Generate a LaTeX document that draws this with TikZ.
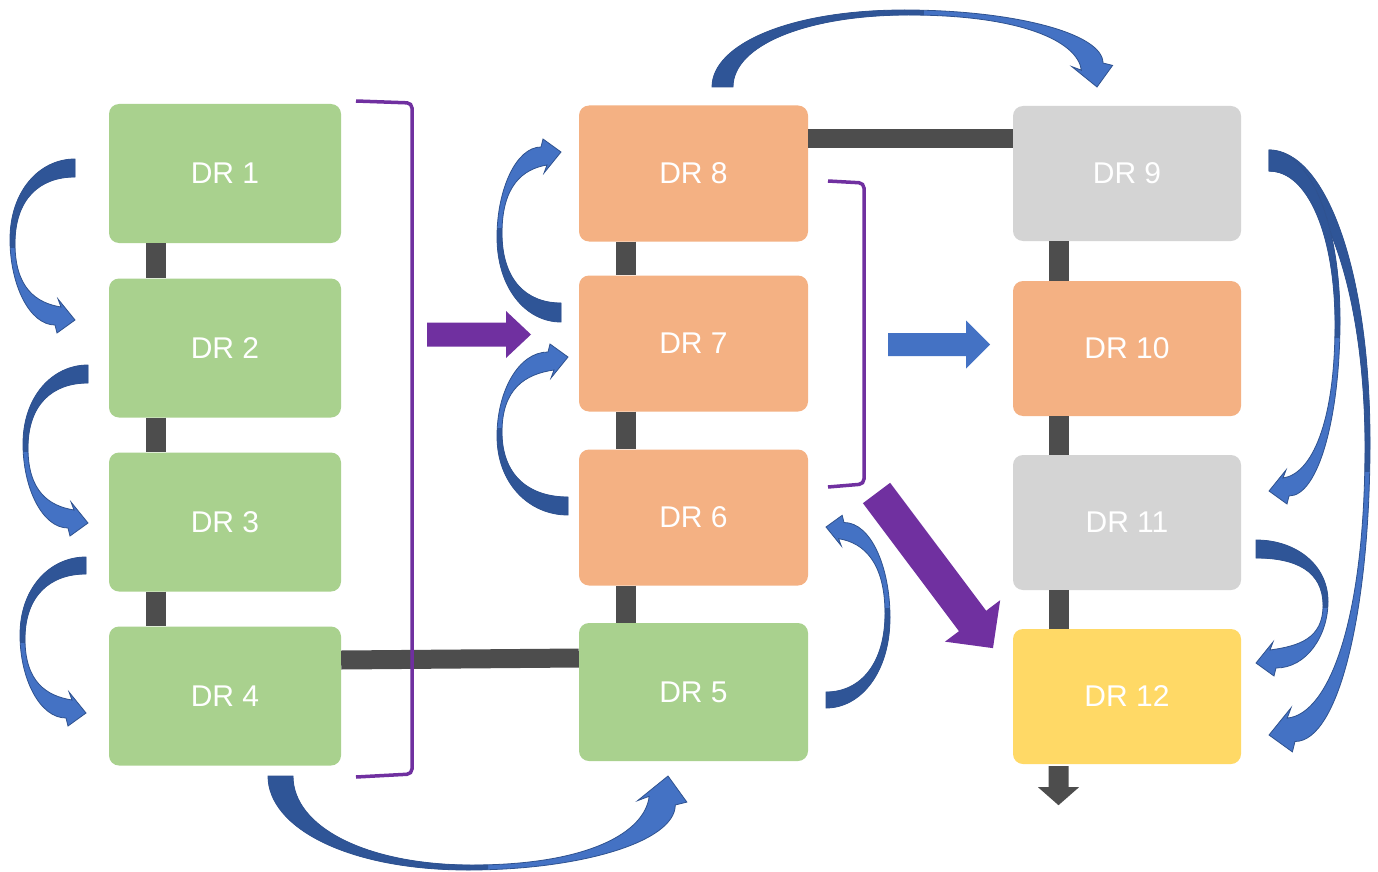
\documentclass[tikz,border=0pt]{standalone}
\usepackage{fontspec}
\setmainfont{Liberation Sans}
\usetikzlibrary{calc}
\definecolor{grn}{HTML}{A9D18E}
\definecolor{org}{HTML}{F4B183}
\definecolor{gry}{HTML}{D4D4D4}
\definecolor{ylw}{HTML}{FFD966}
\definecolor{barcol}{HTML}{4D4D4D}
\definecolor{purp}{HTML}{7030A0}
\definecolor{cal}{HTML}{4472C4}
\definecolor{cdk}{HTML}{2F5597}
\definecolor{cedge}{HTML}{2F528F}
\tikzset{
  drbox/.style={fill=#1, rounded corners=10pt, inner sep=0pt, text=white,
    font=\fontsize{30}{36}\selectfont},
  colA/.style={minimum width=232pt, minimum height=139pt},
  colB/.style={minimum width=229pt, minimum height=136pt},
  colC/.style={minimum width=228pt, minimum height=135pt},
  vbar/.style={draw=barcol, line width=20pt},
  hbar/.style={draw=barcol, line width=19pt},
  bracket/.style={draw=purp, line width=3.5pt, rounded corners=5pt},
}
% curved ribbon arrow: #1 frame, #2 depth, #3 length, #4 tail width, #5 head scale
\newcommand{\carrow}[5]{%
  \begin{scope}[#1]
    \tikzset{cpth/.style={insert path={(0,0) .. controls ({-0.55*#2},0) and ({-#2},{0.2*#3}) .. ({-#2},{0.5*#3})
      .. controls ({-#2},{0.78*#3}) and ({-0.7*#2},{#3+5*#5}) .. ({-20*#5},{#3+5*#5})
      -- ({-18*#5},{#3+13*#5}) -- (0,#3) -- ({-17*#5},{#3-21*#5}) -- ({-14*#5},{#3-13*#5})
      .. controls ({-0.6*#2},{#3-13*#5-4}) and ({-(#2-5)},{0.8*#3}) .. ({-(#2-5)},{0.5*#3+4})
      .. controls ({-(#2-5)},{0.25*#3}) and ({-0.55*#2},{#4}) .. (0,#4) -- cycle}}}%
    \fill[cal, cpth];
    \begin{scope}
      \clip ({-#2-40},-40) rectangle (40,{0.55*#3});
      \fill[cdk, cpth];
    \end{scope}
    \draw[cedge, line width=0.8pt, cpth];
  \end{scope}}
% straight block arrow: #1 colour, #2 start, #3 angle, #4 length, #5 shaft width, #6 head width, #7 head length
\newcommand{\blockarrow}[7]{%
  \begin{scope}[shift={#2}, rotate=#3]
    \fill[#1] (0,{-#5/2}) -- ({#4-#7},{-#5/2}) -- ({#4-#7},{-#6/2}) -- (#4,0)
      -- ({#4-#7},{#6/2}) -- ({#4-#7},{#5/2}) -- (0,{#5/2}) -- cycle;
  \end{scope}}
\begin{document}
\begin{tikzpicture}[x=1pt,y=-1pt]
\useasboundingbox (0,0) rectangle (1378,872);
\fill[white] (0,0) rectangle (1378,872);

% boxes
\node[drbox=grn, colA] (dr1) at (225,173.5) {DR 1};
\node[drbox=grn, colA] (dr2) at (225,348) {DR 2};
\node[drbox=grn, colA] (dr3) at (225,522) {DR 3};
\node[drbox=grn, colA] (dr4) at (225,696) {DR 4};
\node[drbox=org, colB] (dr8) at (693.5,173.5) {DR 8};
\node[drbox=org, colB] (dr7) at (693.5,343.5) {DR 7};
\node[drbox=org, colB] (dr6) at (693.5,517.5) {DR 6};
\node[drbox=grn, colB, minimum height=138pt] (dr5) at (693.5,692) {DR 5};
\node[drbox=gry, colC] (dr9) at (1127,173.5) {DR 9};
\node[drbox=org, colC] (dr10) at (1127,348.5) {DR 10};
\node[drbox=gry, colC] (dr11) at (1127,522.5) {DR 11};
\node[drbox=ylw, colC] (dr12) at (1127,696.5) {DR 12};

% dark connecting bars
\draw[vbar] ([xshift=-69pt]dr1.south) -- ([xshift=-69pt]dr2.north);
\draw[vbar] ([xshift=-69pt]dr2.south) -- ([xshift=-69pt]dr3.north);
\draw[vbar] ([xshift=-69pt]dr3.south) -- ([xshift=-69pt]dr4.north);
\draw[vbar] ([xshift=-68pt]dr8.south) -- ([xshift=-68pt]dr7.north);
\draw[vbar] ([xshift=-68pt]dr7.south) -- ([xshift=-68pt]dr6.north);
\draw[vbar] ([xshift=-68pt]dr6.south) -- ([xshift=-68pt]dr5.north);
\draw[vbar] ([xshift=-68.5pt]dr9.south) -- ([xshift=-68.5pt]dr10.north);
\draw[vbar] ([xshift=-68.5pt]dr10.south) -- ([xshift=-68.5pt]dr11.north);
\draw[vbar] ([xshift=-68.5pt]dr11.south) -- ([xshift=-68.5pt]dr12.north);
\draw[hbar] ([yshift=36pt]dr4.east) -- ([yshift=34pt]dr5.west);
\draw[hbar] ([yshift=35pt]dr8.east) -- ([yshift=35pt]dr9.west);
\fill[barcol] ($(dr12.south)+(-78.5,2)$) -- ++(0,21) -- ++(-10.5,0) -- ++(20.5,18)
  -- ++(20.5,-18) -- ++(-10.5,0) -- ++(0,-21) -- cycle;

% brackets
\draw[bracket] (356,101) -- (412,103) -- (412,774) -- (356,777);
\draw[bracket] (828,181) -- (864,183) -- (864,484) -- (828,487);

% straight block arrows
\blockarrow{purp}{(427,334.5)}{0}{104}{24}{47}{25}
\blockarrow{cal}{(888,344.5)}{0}{102}{23}{48}{24}
\blockarrow{purp}{(876.5,493)}{-53.1}{194}{34}{69}{34}

% curved arrows
\carrow{shift={(75,159)}}{65}{161}{18}{1}
\carrow{shift={(88,365)}}{65}{158}{18}{1}
\carrow{shift={(86,557)}}{66}{156}{17}{1}
\carrow{shift={(561,322)}, x={(1pt,0pt)}, y={(0pt,1pt)}}{64}{170}{19}{1}
\carrow{shift={(568,515)}, x={(1pt,0pt)}, y={(0pt,1pt)}}{71}{158}{18}{1}
\carrow{shift={(826,708)}, x={(-1pt,0pt)}, y={(0pt,1pt)}}{64}{181}{16}{0.9}
\carrow{shift={(712,87)}, x={(0pt,-1pt)}, y={(1pt,0pt)}}{77}{385}{21}{1.2}
\carrow{shift={(268,776)}, x={(0pt,1pt)}, y={(1pt,0pt)}}{94}{400}{25}{1.45}
\carrow{shift={(1269,150)}, x={(-1pt,0pt)}, y={(0pt,-1pt)}}{101}{585}{21}{1.3}
\carrow{shift={(1269,150)}, x={(-1pt,0pt)}, y={(0pt,-1pt)}}{71}{341}{21}{1}
\carrow{shift={(1256,540)}, x={(-1pt,0pt)}, y={(0pt,-1pt)}}{72}{123}{18}{1}
\end{tikzpicture}
\end{document}
